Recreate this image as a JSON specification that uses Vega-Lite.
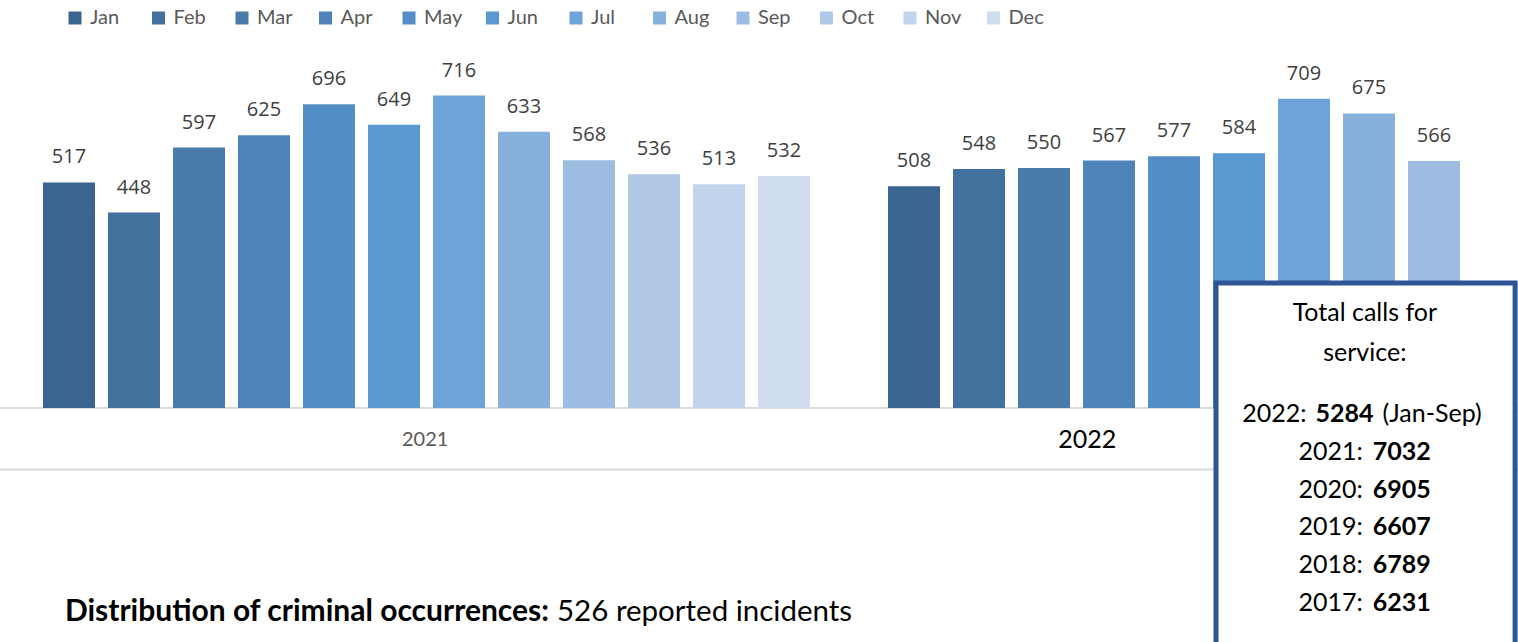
{
  "$schema": "https://vega.github.io/schema/vega-lite/v6.json",
  "width": 1518,
  "height": 642,
  "autosize": {"type": "none"},
  "padding": 0,
  "background": "#ffffff",
  "config": {"view": {"stroke": null}, "axis": {"disable": true}},
  "datasets": {
    "calls": [
      {"period": "2021-Jan", "month": "Jan", "value": 517},
      {"period": "2021-Feb", "month": "Feb", "value": 448},
      {"period": "2021-Mar", "month": "Mar", "value": 597},
      {"period": "2021-Apr", "month": "Apr", "value": 625},
      {"period": "2021-May", "month": "May", "value": 696},
      {"period": "2021-Jun", "month": "Jun", "value": 649},
      {"period": "2021-Jul", "month": "Jul", "value": 716},
      {"period": "2021-Aug", "month": "Aug", "value": 633},
      {"period": "2021-Sep", "month": "Sep", "value": 568},
      {"period": "2021-Oct", "month": "Oct", "value": 536},
      {"period": "2021-Nov", "month": "Nov", "value": 513},
      {"period": "2021-Dec", "month": "Dec", "value": 532},
      {"period": "2022-Jan", "month": "Jan", "value": 508},
      {"period": "2022-Feb", "month": "Feb", "value": 548},
      {"period": "2022-Mar", "month": "Mar", "value": 550},
      {"period": "2022-Apr", "month": "Apr", "value": 567},
      {"period": "2022-May", "month": "May", "value": 577},
      {"period": "2022-Jun", "month": "Jun", "value": 584},
      {"period": "2022-Jul", "month": "Jul", "value": 709},
      {"period": "2022-Aug", "month": "Aug", "value": 675},
      {"period": "2022-Sep", "month": "Sep", "value": 566}
    ],
    "totals": [
      {"year": 2022, "label": "2022:", "total": 5284, "note": "(Jan-Sep)"},
      {"year": 2021, "label": "2021:", "total": 7032},
      {"year": 2020, "label": "2020:", "total": 6905},
      {"year": 2019, "label": "2019:", "total": 6607},
      {"year": 2018, "label": "2018:", "total": 6789},
      {"year": 2017, "label": "2017:", "total": 6231}
    ],
    "footer": [
      {"lead": "Distribution of criminal occurrences:", "detail": "526 reported incidents"}
    ]
  },
  "layer": [
    {
      "data": {"values": [{}]},
      "mark": {"type": "rule", "color": "#D9D9D9", "strokeWidth": 2},
      "encoding": {"y": {"datum": 0, "axis": null, "scale": {"domain": [-536, 935], "nice": false, "zero": false}}}
    },
    {
      "data": {"values": [{}]},
      "mark": {"type": "rule", "color": "#D9D9D9", "strokeWidth": 2},
      "encoding": {"y": {"datum": -141, "axis": null, "scale": {"domain": [-536, 935], "nice": false, "zero": false}}}
    },
    {
      "data": {"name": "calls"},
      "mark": {"type": "bar"},
      "encoding": {
        "x": {
          "field": "period",
          "type": "nominal",
          "sort": null,
          "axis": null,
          "scale": {
            "type": "band",
            "domain": ["2021-Jan", "2021-Feb", "2021-Mar", "2021-Apr", "2021-May", "2021-Jun", "2021-Jul", "2021-Aug", "2021-Sep", "2021-Oct", "2021-Nov", "2021-Dec", " ", "2022-Jan", "2022-Feb", "2022-Mar", "2022-Apr", "2022-May", "2022-Jun", "2022-Jul", "2022-Aug", "2022-Sep"],
            "paddingInner": 0.2,
            "paddingOuter": 0.777,
            "align": 0.4257,
            "round": false
          }
        },
        "y": {
          "field": "value",
          "type": "quantitative",
          "axis": null,
          "scale": {"domain": [-536, 935], "nice": false, "zero": false}
        },
        "y2": {"datum": 0},
        "color": {
          "field": "month",
          "type": "nominal",
          "scale": {
            "domain": ["Jan", "Feb", "Mar", "Apr", "May", "Jun", "Jul", "Aug", "Sep", "Oct", "Nov", "Dec"],
            "range": ["#3A6590", "#41719C", "#487AAA", "#4F84BA", "#548EC6", "#5998D0", "#6CA3D8", "#88B0DC", "#9DBCE2", "#B1C8E6", "#C2D4EC", "#D0DDEF"]
          },
          "legend": {
            "title": null,
            "orient": "none",
            "legendX": 65,
            "legendY": 8,
            "direction": "horizontal",
            "columns": 12,
            "gridAlign": "all",
            "columnPadding": 19.5,
            "padding": 0,
            "symbolType": "square",
            "symbolSize": 169,
            "symbolStrokeWidth": 0,
            "symbolOpacity": 1,
            "labelFont": "Lato",
            "labelFontSize": 20,
            "labelColor": "#595959",
            "labelOffset": 5
          }
        }
      }
    },
    {
      "data": {"name": "calls"},
      "mark": {"type": "text", "font": "Open Sans", "fontSize": 20, "color": "#404040", "baseline": "alphabetic", "dy": -19},
      "encoding": {
        "x": {"field": "period", "type": "nominal", "bandPosition": 0.5, "axis": null},
        "y": {"field": "value", "type": "quantitative", "axis": null, "scale": {"domain": [-536, 935], "nice": false, "zero": false}},
        "text": {"field": "value", "type": "quantitative", "format": "d"}
      }
    },
    {
      "data": {"values": [{"label": "2021"}]},
      "mark": {"type": "text", "font": "Lato", "fontSize": 20, "color": "#595959", "baseline": "middle", "align": "center"},
      "encoding": {
        "x": {"datum": "2021-Jun", "bandPosition": 1.1, "axis": null},
        "y": {"datum": -73, "axis": null, "scale": {"domain": [-536, 935], "nice": false, "zero": false}},
        "text": {"field": "label", "type": "nominal"}
      }
    },
    {
      "data": {"values": [{"label": "2022"}]},
      "mark": {"type": "text", "font": "Lato", "fontSize": 25, "color": "#000000", "baseline": "middle", "align": "center"},
      "encoding": {
        "x": {"datum": "2022-Apr", "bandPosition": 0.08, "axis": null},
        "y": {"datum": -73, "axis": null, "scale": {"domain": [-536, 935], "nice": false, "zero": false}},
        "text": {"field": "label", "type": "nominal"}
      }
    },
    {
      "data": {"values": [{}]},
      "mark": {"type": "rect", "fill": "#ffffff", "stroke": "#2F5597", "strokeWidth": 5},
      "encoding": {
        "x": {"datum": "2022-Jun", "bandPosition": 0.058, "axis": null},
        "x2": {"datum": "2022-Sep", "bandPosition": 2.06},
        "y": {"datum": 286.4, "axis": null, "scale": {"domain": [-536, 935], "nice": false, "zero": false}},
        "y2": {"datum": -560}
      }
    },
    {
      "data": {"values": [{"title": ["Total calls for", "service:"]}]},
      "mark": {"type": "text", "font": "Lato", "fontSize": 25, "color": "#000000", "baseline": "middle", "align": "center", "lineHeight": 40},
      "encoding": {
        "x": {"datum": "2022-Aug", "bandPosition": 0.42, "axis": null},
        "y": {"datum": 217.6, "axis": null, "scale": {"domain": [-536, 935], "nice": false, "zero": false}},
        "text": {"field": "title", "type": "nominal"}
      }
    },
    {
      "data": {"name": "footer"},
      "mark": {"type": "text", "font": "Lato", "fontSize": 30, "fontWeight": "bold", "color": "#000000", "baseline": "middle", "align": "right", "dx": -1},
      "encoding": {
        "x": {"datum": "2021-Aug", "bandPosition": 1, "axis": null},
        "y": {"datum": -467.4, "axis": null, "scale": {"domain": [-536, 935], "nice": false, "zero": false}},
        "text": {"field": "lead", "type": "nominal"}
      }
    },
    {
      "data": {"name": "footer"},
      "mark": {"type": "text", "font": "Lato", "fontSize": 29.5, "color": "#000000", "baseline": "middle", "align": "left", "dx": 7},
      "encoding": {
        "x": {"datum": "2021-Aug", "bandPosition": 1, "axis": null},
        "y": {"datum": -467.4, "axis": null, "scale": {"domain": [-536, 935], "nice": false, "zero": false}},
        "text": {"field": "detail", "type": "nominal"}
      }
    },
    {
      "data": {"name": "totals"},
      "transform": [{"filter": "datum.year < 2022"}],
      "mark": {"type": "text", "font": "Lato", "fontSize": 25, "color": "#000000", "baseline": "middle", "align": "right", "dx": -1},
      "encoding": {
        "x": {"datum": "2022-Aug", "bandPosition": 0.4, "axis": null},
        "y": {"field": "year", "type": "quantitative", "axis": null, "scale": {"domain": [2015.968, 2032.952], "nice": false, "zero": false}},
        "text": {"field": "label", "type": "nominal"}
      }
    },
    {
      "data": {"name": "totals"},
      "transform": [{"filter": "datum.year < 2022"}],
      "mark": {"type": "text", "font": "Lato", "fontSize": 25, "fontWeight": "bold", "color": "#000000", "baseline": "middle", "align": "left", "dx": 9},
      "encoding": {
        "x": {"datum": "2022-Aug", "bandPosition": 0.4, "axis": null},
        "y": {"field": "year", "type": "quantitative", "axis": null, "scale": {"domain": [2015.968, 2032.952], "nice": false, "zero": false}},
        "text": {"field": "total", "type": "quantitative", "format": "d"}
      }
    },
    {
      "data": {"name": "totals"},
      "transform": [{"filter": "datum.year == 2022"}],
      "mark": {"type": "text", "font": "Lato", "fontSize": 25, "color": "#000000", "baseline": "middle", "align": "right", "dx": 0},
      "encoding": {
        "x": {"datum": "2022-Jul", "bandPosition": 0.55, "axis": null},
        "y": {"field": "year", "type": "quantitative", "axis": null, "scale": {"domain": [2015.968, 2032.952], "nice": false, "zero": false}},
        "text": {"field": "label", "type": "nominal"}
      }
    },
    {
      "data": {"name": "totals"},
      "transform": [{"filter": "datum.year == 2022"}],
      "mark": {"type": "text", "font": "Lato", "fontSize": 25, "fontWeight": "bold", "color": "#000000", "baseline": "middle", "align": "left", "dx": 9},
      "encoding": {
        "x": {"datum": "2022-Jul", "bandPosition": 0.55, "axis": null},
        "y": {"field": "year", "type": "quantitative", "axis": null, "scale": {"domain": [2015.968, 2032.952], "nice": false, "zero": false}},
        "text": {"field": "total", "type": "quantitative", "format": "d"}
      }
    },
    {
      "data": {"name": "totals"},
      "transform": [{"filter": "datum.year == 2022"}],
      "mark": {"type": "text", "font": "Lato", "fontSize": 25, "color": "#000000", "baseline": "middle", "align": "left", "dx": 76},
      "encoding": {
        "x": {"datum": "2022-Jul", "bandPosition": 0.55, "axis": null},
        "y": {"field": "year", "type": "quantitative", "axis": null, "scale": {"domain": [2015.968, 2032.952], "nice": false, "zero": false}},
        "text": {"field": "note", "type": "nominal"}
      }
    }
  ],
  "resolve": {"scale": {"y": "independent"}}
}
